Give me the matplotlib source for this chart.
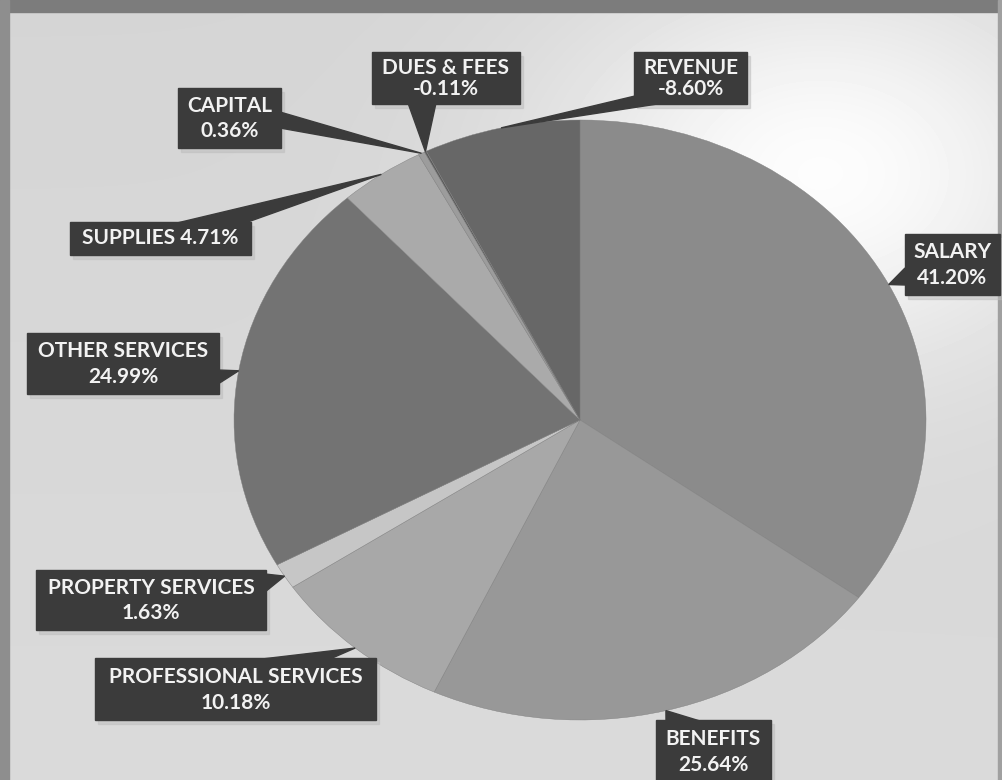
import matplotlib.pyplot as plt
import numpy as np
from matplotlib.patches import Rectangle, Polygon

# Budget share by category (negative shares are drawn by magnitude)
categories = ["SALARY", "BENEFITS", "PROFESSIONAL SERVICES", "PROPERTY SERVICES",
              "OTHER SERVICES", "SUPPLIES", "CAPITAL", "DUES & FEES", "REVENUE"]
shares = [41.20, 25.64, 10.18, 1.63, 24.99, 4.71, 0.36, -0.11, -8.60]
slice_colors = ["#8b8b8b", "#989898", "#a8a8a8", "#c6c6c6", "#737373",
                "#aaaaaa", "#9c9c9c", "#5c5c5c", "#676767"]

# callout boxes in pixel space: (x0, y0, x1, y1), pointer base points
boxes = [(905, 234, 1000, 295), (656, 720, 771, 782), (95, 658, 376, 720),
         (36, 570, 266, 630), (27, 333, 219, 394), (70, 222, 251, 255),
         (178, 88, 281, 148), (372, 52, 520, 104), (634, 52, 747, 104)]
bases = [((905, 268), (905, 285)), ((666, 721), (700, 721)), ((262, 659), (330, 659)),
         ((265, 574), (265, 592)), ((218, 370), (218, 384)), ((177, 223), (245, 223)),
         ((280, 112), (280, 128)), ((408, 103), (436, 103)), ((635, 96), (664, 103))]
one_line = [False, False, False, False, False, True, False, False, False]

W, H = 1003, 780
fig = plt.figure(figsize=(W / 100, H / 100), dpi=100)

# background with light haze and frame
bg = fig.add_axes([0, 0, 1, 1])
bg.set_xlim(0, W)
bg.set_ylim(H, 0)
bg.axis("off")
yy, xx = np.mgrid[0:H, 0:W]
base = 0.835 + 0.02 * (yy / H)
glow = np.exp(-(((xx - 820) / 260.0) ** 2 + ((yy - 170) / 190.0) ** 2))
img = np.clip(base + 0.15 * glow, 0, 1)
bg.imshow(img, cmap="gray", vmin=0, vmax=1, extent=(0, W, H, 0), zorder=0)
bg.add_patch(Rectangle((0, 0), W, 12, color="#7c7c7c", zorder=1))
bg.add_patch(Rectangle((0, 0), 9, H, color="#8e8e8e", zorder=1))
bg.add_patch(Rectangle((W - 5, 0), 5, H, color="#a0a0a0", zorder=1))

# pie drawn as an ellipse: center (580, 420), rx 346, ry 300
cx, cy, rx, ry = 580, 420, 346, 300
pie_ax = fig.add_axes([(cx - rx) / W, (H - cy - ry) / H, 2 * rx / W, 2 * ry / H])
wedges, _ = pie_ax.pie(np.abs(shares), colors=slice_colors, startangle=90,
                       counterclock=False, radius=1,
                       wedgeprops=dict(edgecolor="#7e7e7e", linewidth=0.3))
pie_ax.set_aspect("auto")
pie_ax.set_xlim(-1, 1)
pie_ax.set_ylim(-1, 1)
pie_ax.axis("off")

# overlay for callouts
ov = fig.add_axes([0, 0, 1, 1])
ov.set_xlim(0, W)
ov.set_ylim(H, 0)
ov.axis("off")
ov.patch.set_alpha(0)

box_color = "#3b3b3b"
text_kw = dict(color="#f2f2f2", fontsize=15, family="Lato", weight="bold",
               ha="center", va="center", zorder=4)
for w, name, val, (x0, y0, x1, y1), (b1, b2), single in zip(
        wedges, categories, shares, boxes, bases, one_line):
    mid = np.deg2rad((w.theta1 + w.theta2) / 2)
    tip_disp = pie_ax.transData.transform((np.cos(mid), np.sin(mid)))
    tip = ov.transData.inverted().transform(tip_disp)
    ov.add_patch(Rectangle((x0 + 3, y0 + 4), x1 - x0, y1 - y0, color="#bdbdbd",
                           alpha=0.5, zorder=2))
    ov.add_patch(Polygon([b1, tip, b2], closed=True, color=box_color, zorder=3))
    ov.add_patch(Rectangle((x0, y0), x1 - x0, y1 - y0, color=box_color, zorder=3))
    xc = (x0 + x1) / 2
    pct = f"{val:.2f}%"
    if single:
        ov.text(xc, (y0 + y1) / 2, f"{name} {pct}", **text_kw)
    else:
        ov.text(xc, y0 + (y1 - y0) * 0.30, name, **text_kw)
        ov.text(xc, y0 + (y1 - y0) * 0.72, pct, **text_kw)

fig.savefig("out.png", dpi=100)
